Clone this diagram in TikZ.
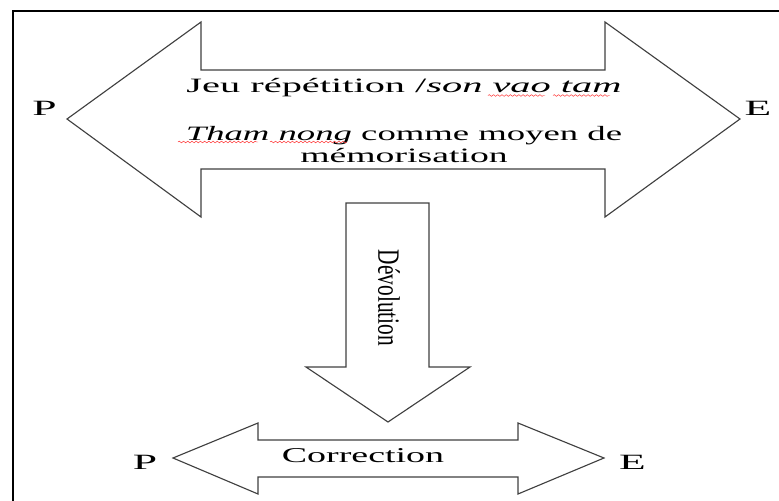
\documentclass[tikz,border=0pt]{standalone}
\usepackage{fontspec}
\setmainfont{Liberation Serif}
\usepackage{graphicx}
\usetikzlibrary{decorations.pathmorphing}

\tikzset{
  fleche/.style={draw=black!75, line width=0.8pt, fill=white, line join=miter},
  lettre/.style={font=\fontsize{15.5}{16}\selectfont, inner sep=0pt, anchor=base},
  texte/.style={font=\fontsize{14.5}{16}\selectfont, inner sep=0pt, anchor=base},
  vague/.style={red!80, line width=0.35pt, decorate, decoration={snake, amplitude=0.6pt, segment length=3pt}},
}

\begin{document}
\begin{tikzpicture}[x=0.025cm, y=-0.025cm]
    \useasboundingbox (0,0) rectangle (779,501);
    % Cadre
    \draw[line width=1.4pt] (13,501) -- (13,11) -- (779,11);

    % Grande flèche double
    \draw[fleche] (67,119) -- (201,22) -- (201,70) -- (605,70) -- (605,22) -- (740,119)
        -- (605,217) -- (605,169) -- (201,169) -- (201,217) -- cycle;
    \node[lettre] (p1) at (44.5,115) {\scalebox{2}[1]{P}};
    \node[lettre] (e1) at (758,115) {\scalebox{2}[1]{E}};
    \node[texte] (jeu) at (404,92) {\scalebox{1.98}[1]{Jeu répétition /\textit{son vao tam}}};
    \node[texte] (tham) at (404,140) {\scalebox{1.8}[1]{\textit{Tham nong} comme moyen de}};
    \node[texte] (memo) at (404,162) {\scalebox{1.85}[1]{mémorisation}};
    % soulignements ondulés
    \draw[vague] (488,95.5) -- (545,95.5);
    \draw[vague] (553,95.5) -- (610,95.5);
    \draw[vague] (178,142) -- (258,142);
    \draw[vague] (270,142) -- (347,142);

    % Flèche de dévolution
    \draw[fleche] (346,203) -- (429,203) -- (429,367) -- (470,367) -- (388,422)
        -- (306,367) -- (346,367) -- cycle;
    \node[font=\fontsize{15.2}{16}\selectfont, rotate=-90, inner sep=0pt] (devol) at (389,298) {\scalebox{1}[1.45]{Dévolution}};

    % Petite flèche double
    \draw[fleche] (173,458) -- (258,423) -- (258,440) -- (518,440) -- (518,423) -- (604,458)
        -- (518,494) -- (518,477) -- (258,477) -- (258,494) -- cycle;
    \node[texte, font=\fontsize{15}{16}\selectfont] (corr) at (363,462.7) {\scalebox{1.8}[1]{Correction}};
    \node[lettre] (p2) at (145,469) {\scalebox{2}[1]{P}};
    \node[lettre] (e2) at (632.5,469) {\scalebox{2}[1]{E}};
\end{tikzpicture}
\end{document}
